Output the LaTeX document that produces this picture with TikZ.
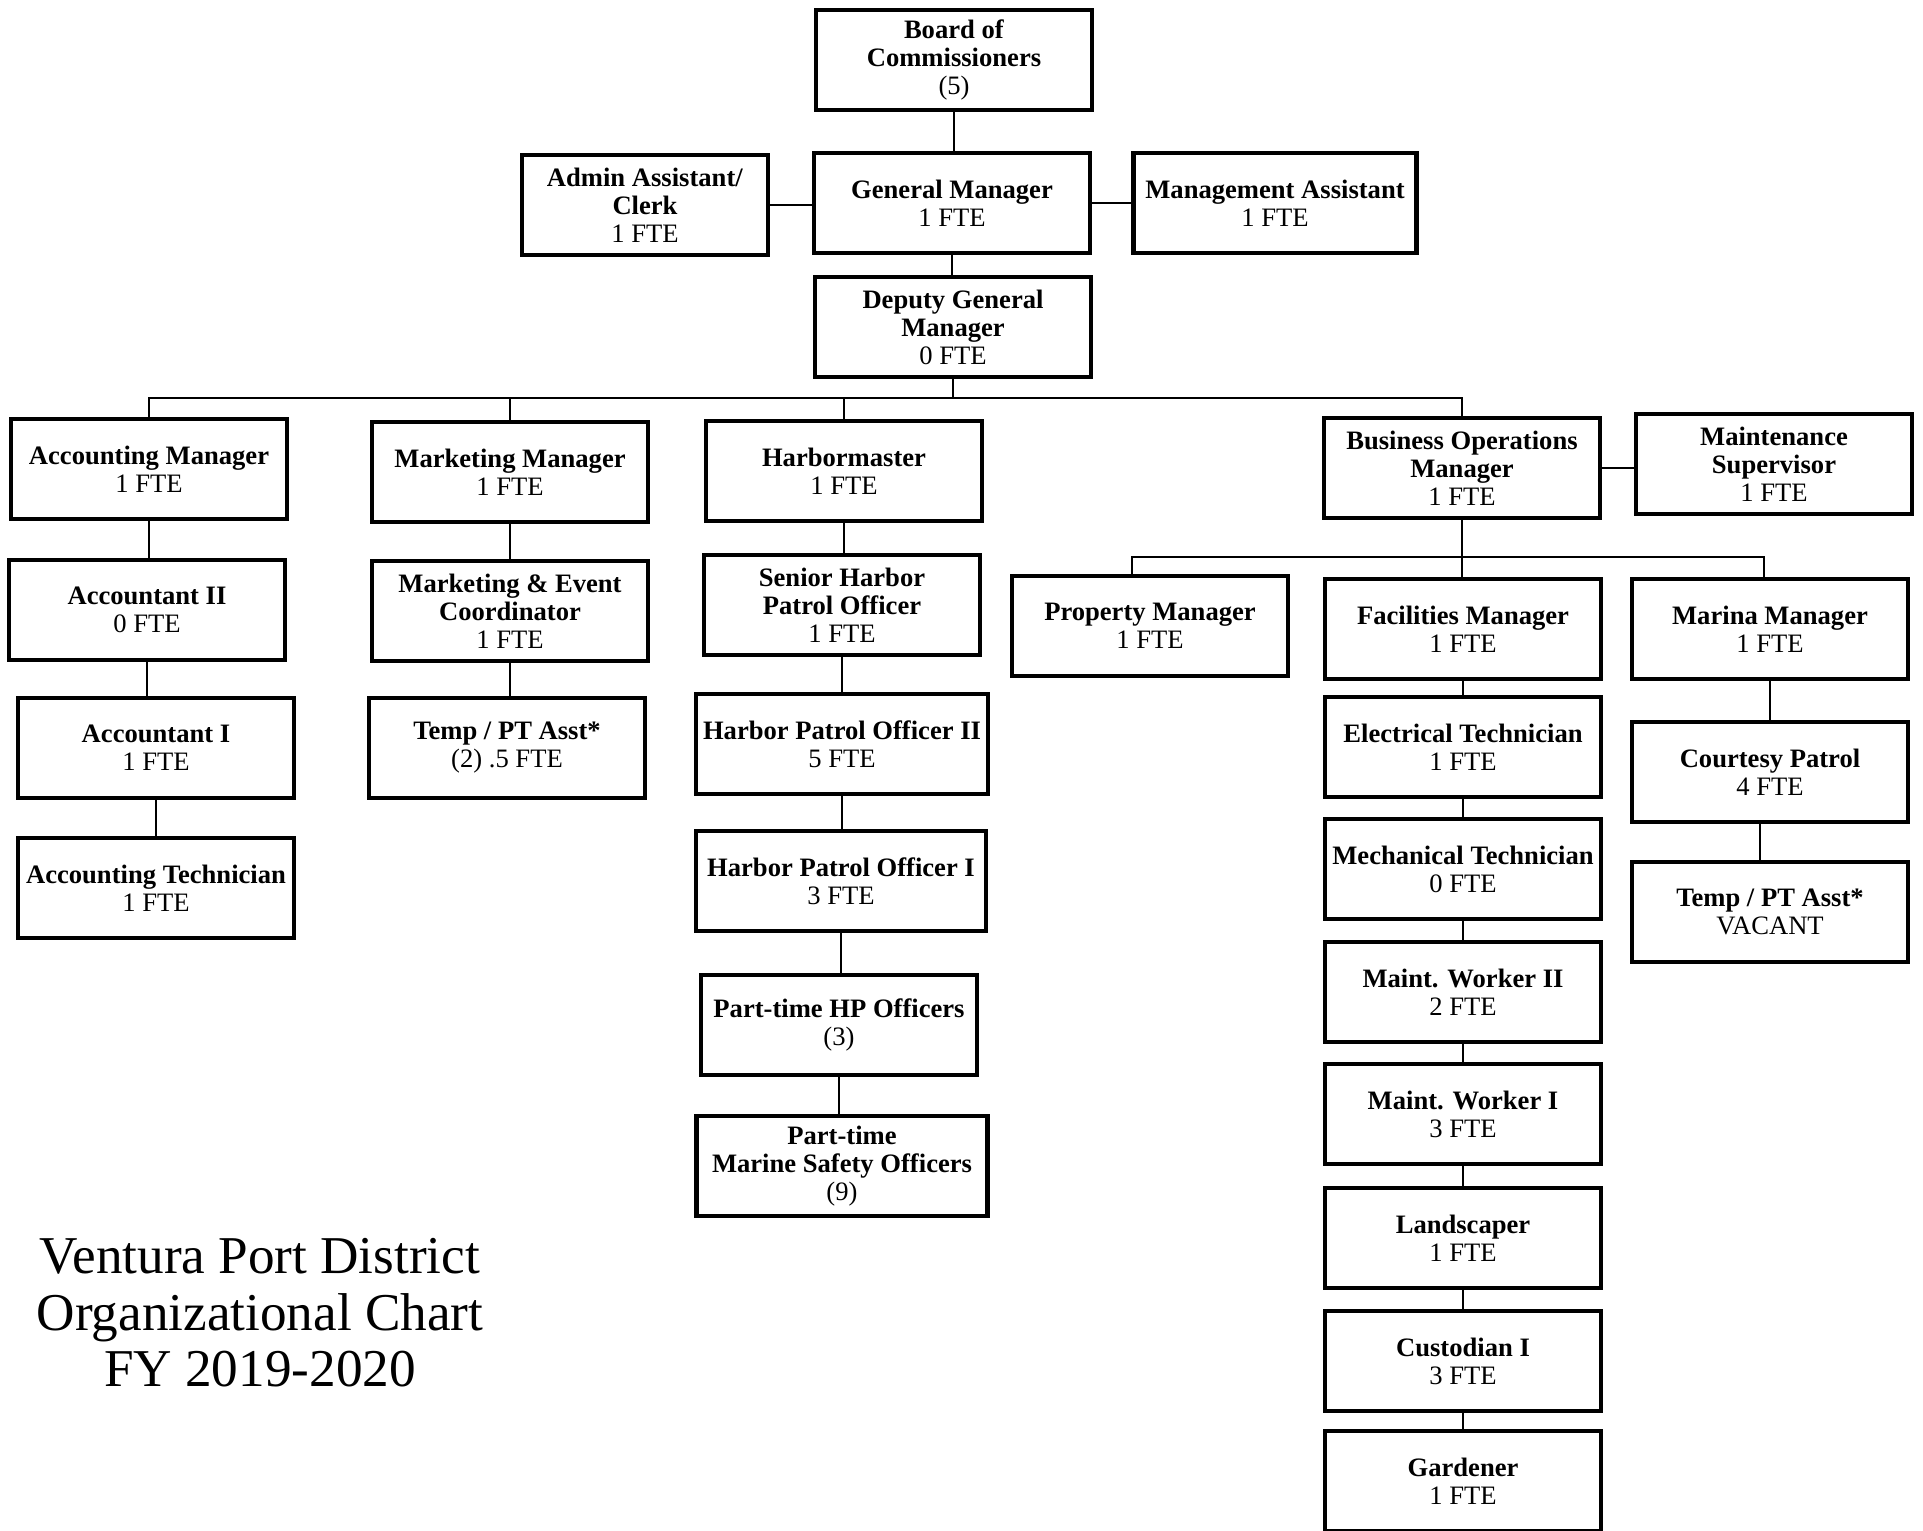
\documentclass[tikz,border=0pt]{standalone}
\usepackage{fontspec}
\setmainfont{Liberation Serif}

\begin{document}
\begin{tikzpicture}[
  x=0.5pt, y=-0.5pt,
  box/.style={draw, line width=2.4pt, fill=white, minimum width=138pt, minimum height=50pt, inner sep=1pt, align=center, font=\fontsize{13.3}{14}\selectfont},
  link/.style={line width=1pt},
  heading/.style={align=center, font=\fontsize{26.6}{28.2}\selectfont}
]
\useasboundingbox (0,0) rectangle (1923,1531);

% Top of the chart
\node[box] (board) at (954,60) {\textbf{Board of}\\ \textbf{Commissioners}\\ (5)};
\node[box] (gm) at (952,203) {\textbf{General Manager}\\ 1 FTE};
\node[box, minimum width=123pt] (admin) at (645,205) {\textbf{Admin Assistant/}\\ \textbf{Clerk}\\ 1 FTE};
\node[box, minimum width=141.5pt] (mgmt) at (1275,203) {\textbf{Management Assistant}\\ 1 FTE};
\node[box] (dgm) at (953,327) {\textbf{Deputy General}\\ \textbf{Manager}\\ 0 FTE};

% Accounting
\node[box] (acctmgr) at (149,469) {\textbf{Accounting Manager}\\ 1 FTE};
\node[box] (acct2) at (147,610) {\textbf{Accountant II}\\ 0 FTE};
\node[box] (acct1) at (156,748) {\textbf{Accountant I}\\ 1 FTE};
\node[box] (accttech) at (156,888) {\textbf{Accounting Technician}\\ 1 FTE};

% Marketing
\node[box] (mktmgr) at (510,472) {\textbf{Marketing Manager}\\ 1 FTE};
\node[box] (mktevent) at (510,611) {\textbf{Marketing \& Event}\\ \textbf{Coordinator}\\ 1 FTE};
\node[box] (mkttemp) at (507,748) {\textbf{Temp / PT Asst*}\\ (2) .5 FTE};

% Harbor patrol
\node[box] (harbor) at (844,471) {\textbf{Harbormaster}\\ 1 FTE};
\node[box] (shpo) at (842,605) {\textbf{Senior Harbor}\\ \textbf{Patrol Officer}\\ 1 FTE};
\node[box, minimum width=146pt] (hpo2) at (842,744) {\textbf{Harbor Patrol Officer II}\\ 5 FTE};
\node[box, minimum width=145pt] (hpo1) at (841,881) {\textbf{Harbor Patrol Officer I}\\ 3 FTE};
\node[box] (pthp) at (839,1025) {\textbf{Part-time HP Officers}\\ (3)};
\node[box, minimum width=145.5pt] (ptms) at (842,1166) {\textbf{Part-time}\\ \textbf{Marine Safety Officers}\\ (9)};

% Business operations
\node[box] (busops) at (1462,468) {\textbf{Business Operations}\\ \textbf{Manager}\\ 1 FTE};
\node[box] (maintsup) at (1774,464) {\textbf{Maintenance}\\ \textbf{Supervisor}\\ 1 FTE};
\node[box] (property) at (1150,626) {\textbf{Property Manager}\\ 1 FTE};
\node[box] (facilities) at (1463,629) {\textbf{Facilities Manager}\\ 1 FTE};
\node[box] (marina) at (1770,629) {\textbf{Marina Manager}\\ 1 FTE};

% Facilities staff
\node[box] (electrical) at (1463,747) {\textbf{Electrical Technician}\\ 1 FTE};
\node[box] (mechanical) at (1463,869) {\textbf{Mechanical Technician}\\ 0 FTE};
\node[box] (mw2) at (1463,992) {\textbf{Maint. Worker II}\\ 2 FTE};
\node[box] (mw1) at (1463,1114) {\textbf{Maint. Worker I}\\ 3 FTE};
\node[box] (landscaper) at (1463,1238) {\textbf{Landscaper}\\ 1 FTE};
\node[box] (custodian) at (1463,1361) {\textbf{Custodian I}\\ 3 FTE};
\node[box] (gardener) at (1463,1481) {\textbf{Gardener}\\ 1 FTE};

% Marina staff
\node[box] (courtesy) at (1770,772) {\textbf{Courtesy Patrol}\\ 4 FTE};
\node[box] (marinatemp) at (1770,912) {\textbf{Temp / PT Asst*}\\ VACANT};

% Title
\node[heading] (title) at (260,1313) {Ventura Port District\\ Organizational Chart\\ FY 2019-2020};

% Bus lines
\coordinate (bus) at (951,398);
\coordinate (subbus) at (1463,557);

% Top connectors
\draw[link] (board.south) -- (board.south |- gm.north);
\draw[link] (admin.east) -- (admin.east -| gm.west);
\draw[link] (gm.east) -- (mgmt.west);
\draw[link] (gm.south) -- (gm.south |- dgm.north);
\draw[link] (dgm.south) -- (dgm.south |- bus);
\draw[link] (acctmgr.north) -- (acctmgr.north |- bus) -- (busops.north |- bus) -- (busops.north);
\draw[link] (mktmgr.north) -- (mktmgr.north |- bus);
\draw[link] (harbor.north) -- (harbor.north |- bus);

% Accounting chain
\draw[link] (acctmgr.south) -- (acctmgr.south |- acct2.north);
\draw[link] (acct2.south) -- (acct2.south |- acct1.north);
\draw[link] (acct1.south) -- (acct1.south |- accttech.north);

% Marketing chain
\draw[link] (mktmgr.south) -- (mktmgr.south |- mktevent.north);
\draw[link] (mktevent.south) -- (mktevent.south |- mkttemp.north);

% Harbor chain
\draw[link] (harbor.south) -- (harbor.south |- shpo.north);
\draw[link] (shpo.south) -- (shpo.south |- hpo2.north);
\draw[link] (hpo2.south) -- (hpo2.south |- hpo1.north);
\draw[link] (hpo1.south) -- (hpo1.south |- pthp.north);
\draw[link] (pthp.south) -- (pthp.south |- ptms.north);

% Business operations branch
\draw[link] (busops.east) -- (busops.east -| maintsup.west);
\draw[link] (busops.south) -- (busops.south |- facilities.north);
\draw[link] ([xshift=-9pt]property.north) |- ([xshift=-3pt]marina.north |- subbus) -- ([xshift=-3pt]marina.north);

% Facilities chain
\draw[link] (facilities.south) -- (facilities.south |- electrical.north);
\draw[link] (electrical.south) -- (electrical.south |- mechanical.north);
\draw[link] (mechanical.south) -- (mechanical.south |- mw2.north);
\draw[link] (mw2.south) -- (mw2.south |- mw1.north);
\draw[link] (mw1.south) -- (mw1.south |- landscaper.north);
\draw[link] (landscaper.south) -- (landscaper.south |- custodian.north);
\draw[link] (custodian.south) -- (custodian.south |- gardener.north);

% Marina chain
\draw[link] (marina.south) -- (marina.south |- courtesy.north);
\draw[link] ([xshift=-5pt]courtesy.south) -- ([xshift=-5pt]courtesy.south |- marinatemp.north);

\end{tikzpicture}
\end{document}
